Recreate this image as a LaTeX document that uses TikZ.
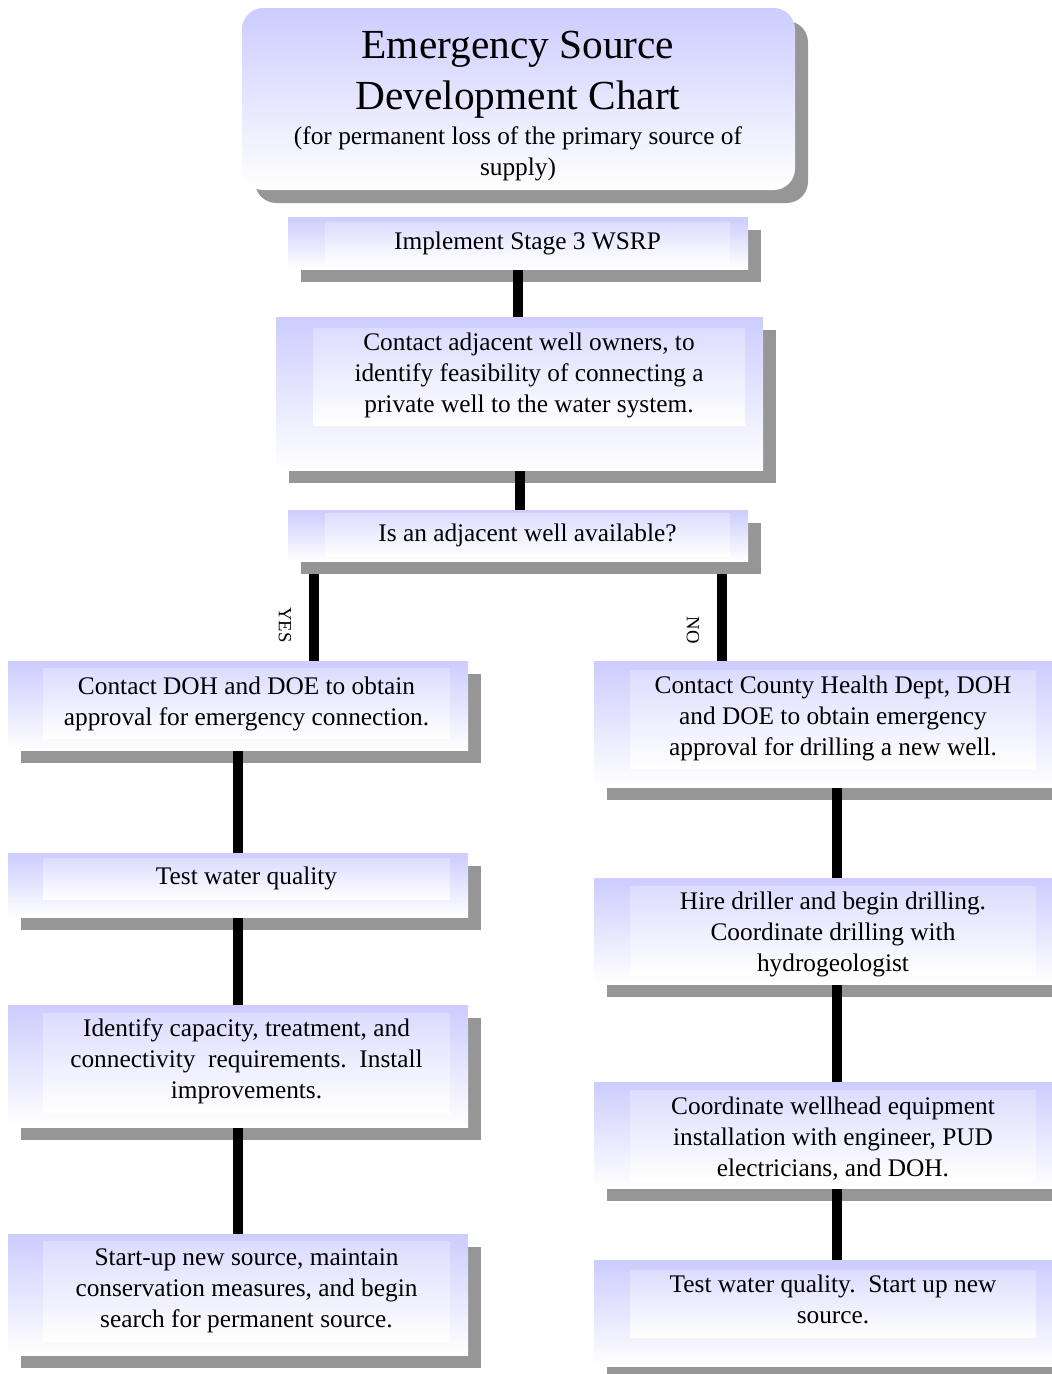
\documentclass[tikz,border=0pt]{standalone}
\usepackage{fontspec}
\setmainfont{Liberation Serif}
\usetikzlibrary{fit}
\definecolor{lav}{RGB}{204,204,255}
\definecolor{lavin}{RGB}{220,220,255}
\definecolor{shd}{RGB}{150,150,150}
\pgfdeclarelayer{lowlayer}
\pgfdeclarelayer{shadowlayer}
\pgfdeclarelayer{connlayer}
\pgfsetlayers{lowlayer,shadowlayer,connlayer,main}
\tikzset{
  shadowbox/.style={fill=shd, draw=none, inner sep=0pt},
  flowbox/.style={top color=lav, bottom color=white, draw=none, inner sep=0pt},
  panelbox/.style={top color=lavin, bottom color=white, draw=none, inner sep=0pt},
  conn/.style={line width=7.5pt, black},
  txt/.style={font=\fontsize{19}{23.25}\selectfont, align=center, inner sep=0pt},
  bigtxt/.style={font=\fontsize{31}{38.25}\selectfont, align=center, inner sep=0pt},
  sidetxt/.style={font=\fontsize{14}{16}\selectfont, inner sep=0pt, rotate=-90},
}
\newcommand\mkbox[9]{%
  \begin{pgfonlayer}{shadowlayer}
    \node[shadowbox, fit={(#2+13,#3+13) (#4+13,#5+13)}] (#1s) {};
  \end{pgfonlayer}
  \node[flowbox, fit={(#2,#3) (#4,#5)}] (#1) {};
  \node[panelbox, fit={(#6,#7) (#8,#9)}] (#1p) {};
}
\begin{document}
\begin{tikzpicture}[x=0.75pt,y=-0.75pt]
\useasboundingbox (0,0) rectangle (1052,1374);
\clip (0,0) rectangle (1052,1374);

% title
\begin{pgfonlayer}{shadowlayer}
  \node[shadowbox, rounded corners=16pt, fit={(255,21) (808,203)}] (Ts) {};
\end{pgfonlayer}
\node[flowbox, rounded corners=16pt, fit={(242,8) (795,190)}] (T) {};
\node[bigtxt] (tT1) at (518,74.5) {Emergency Source\\Development Chart};
\node[txt] (tT2) at (518,153.5) {(for permanent loss of the primary source of\\supply)};

% centre column
\mkbox{B1}{288}{217}{748}{269}{325}{222}{730}{263}
\node[txt] (tB1) at (527.5,243.5) {Implement Stage 3 WSRP};

\mkbox{B2}{276}{317}{763}{470}{313}{328}{745}{425}
\node[txt] (tB2) at (529,375.5) {Contact adjacent well owners, to\\identify feasibility of connecting a\\private well to the water system.};

\mkbox{B3}{288}{510}{748}{561}{325}{513}{730}{556}
\node[txt] (tB3) at (527.5,535.5) {Is an adjacent well available?};

% left column
\mkbox{L1}{8}{661}{468}{750}{43}{668}{450}{738}
\node[txt] (tL1) at (246.5,704) {Contact DOH and DOE to obtain\\approval for emergency connection.};

\mkbox{L2}{8}{853}{468}{917}{43}{858}{450}{899}
\node[txt] (tL2) at (246.5,878) {Test water quality};

\mkbox{L3}{8}{1005}{468}{1127}{43}{1013}{450}{1113}
\node[txt] (tL3) at (246.5,1061) {Identify capacity, treatment, and\\connectivity\ \ requirements.\ \ Install\\improvements.};

\mkbox{L4}{8}{1234}{468}{1355}{43}{1241}{450}{1341}
\node[txt] (tL4) at (246.5,1291) {Start-up new source, maintain\\conservation measures, and begin\\search for permanent source.};

% right column
\mkbox{R1}{594}{661}{1080}{787}{630}{670}{1036}{768}
\node[txt] (tR1) at (833,718) {Contact County Health Dept, DOH\\and DOE to obtain emergency\\approval for drilling a new well.};

\mkbox{R2}{594}{878}{1080}{984}{630}{886}{1036}{975}
\node[txt] (tR2) at (833,934.5) {Hire driller and begin drilling.\\Coordinate drilling with\\hydrogeologist};

\mkbox{R3}{594}{1082}{1080}{1188}{630}{1090}{1036}{1180}
\node[txt] (tR3) at (833,1138.5) {Coordinate wellhead equipment\\installation with engineer, PUD\\electricians, and DOH.};

\mkbox{R4}{594}{1260}{1080}{1366}{630}{1270}{1036}{1337}
\node[txt] (tR4) at (833,1299) {Test water quality.\ \ Start up new\\source.};

% connectors in the chains (over the shadows)
\begin{pgfonlayer}{connlayer}
  \draw[conn] (B1.south) -- (B1.south |- B2.north);
  \draw[conn] (B2.south) -- (B2.south |- B3.north);
  \draw[conn] (L1.south) -- (L2.north);
  \draw[conn] (L2.south) -- (L3.north);
  \draw[conn] (L3.south) -- (L4.north);
  \draw[conn] (R1.south) -- (R2.north);
  \draw[conn] (R2.south) -- (R3.north);
  \draw[conn] (R3.south) -- (R4.north);
\end{pgfonlayer}

% YES / NO branches (under the shadow)
\coordinate (yesTop) at (314,574);
\coordinate (noTop) at (722,574);
\begin{pgfonlayer}{lowlayer}
  \draw[conn] (yesTop) -- (yesTop |- L1.north);
  \draw[conn] (noTop) -- (noTop |- R1.north);
\end{pgfonlayer}
\node[sidetxt] (yes) at (285,625) {YES};
\node[sidetxt] (no) at (693,630) {NO};
\end{tikzpicture}
\end{document}
